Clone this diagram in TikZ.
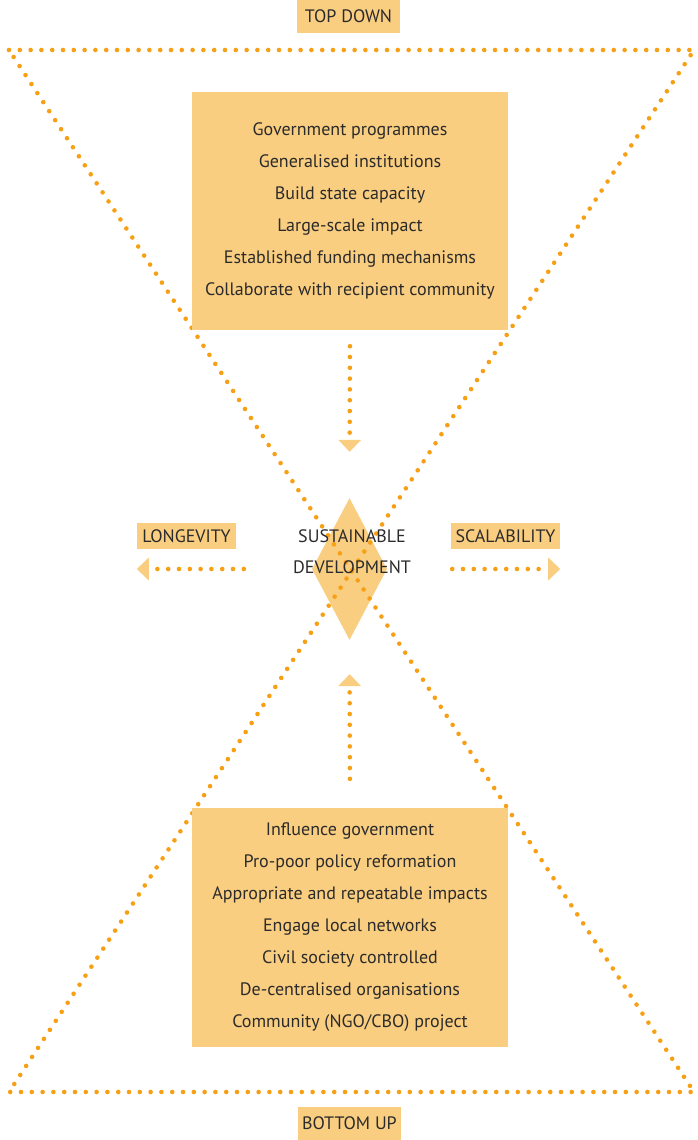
\documentclass[tikz,border=0pt]{standalone}
\usepackage{fontspec}
\setmainfont{PT Sans}
\usepackage{tikz}
\usetikzlibrary{%
	arrows.meta,%
	calc,%
	shapes.geometric
}
\definecolor{dot-orange}{RGB}{247,160,22}
\definecolor{pale-orange}{RGB}{250,206,128}
\definecolor{ink}{RGB}{43,43,43}

\begin{document}
\begin{tikzpicture}[x=1pt,y=-1pt,
		dots/.style={dot-orange, line width=4.6pt, line cap=round, dash pattern=on 0pt off 10.8pt},
		flow/.style={dots, -{Triangle[length=12pt,width=23pt,line width=0pt,color=pale-orange,fill=pale-orange]}},
		panel/.style={fill=pale-orange, text=ink, minimum width=316pt, align=center, font=\fontsize{18}{32}\selectfont},
		tag/.style={fill=pale-orange, text=ink, inner sep=0pt, minimum height=26pt, font=\fontsize{18}{20}\selectfont}
	]
		\useasboundingbox (0,0) rectangle (698,1140);
		
		\node[diamond, fill=pale-orange, minimum width=75pt, minimum height=142pt, inner sep=0pt] (goal) at (349.5,569) {};
		
		\coordinate (tl) at (9,50);
		\coordinate (tr) at (694,50);
		\coordinate (bl) at (9,1092);
		\coordinate (br) at (694,1092);
		\draw[dots] (tl) -- (tr) -- (bl) -- (br) -- cycle;
		
		\node[panel, minimum height=238pt] (top) at (350,211) {Government programmes\\Generalised institutions\\Build state capacity\\Large-scale impact\\Established funding mechanisms\\Collaborate with recipient community};
		\node[panel, minimum height=239pt] (bottom) at (350,927.5) {Influence government\\Pro-poor policy reformation\\Appropriate and repeatable impacts\\Engage local networks\\Civil society controlled\\De-centralised organisations\\Community (NGO/CBO) project};
		
		\node[tag, minimum width=103pt, minimum height=33pt] (topdown) at (348.5,16.5) {TOP DOWN};
		\node[tag, minimum width=103pt, minimum height=33pt] (bottomup) at (349.5,1123.5) {BOTTOM UP};
		\node[tag, minimum width=99pt] (longevity) at (186.5,536) {LONGEVITY};
		\node[tag, minimum width=109pt] (scalability) at (505.5,536) {SCALABILITY};
		
		\coordinate (ltip) at (longevity.west |- goal.west);
		\coordinate (rtip) at (scalability.east |- goal.east);
		\draw[flow, shorten <=16pt, shorten >=46pt] (top.south) -- (goal.north);
		\draw[flow, shorten <=29pt, shorten >=34pt] (bottom.north) -- (goal.south);
		\draw[flow, shorten <=68pt] (goal.west) -- (ltip);
		\draw[flow, shorten <=65pt] (goal.east) -- (rtip);
		
		\node[text=ink, align=center, font=\fontsize{18}{31}\selectfont] (sd) at (352,551.5) {SUSTAINABLE\\DEVELOPMENT};

	\end{tikzpicture}
\end{document}
